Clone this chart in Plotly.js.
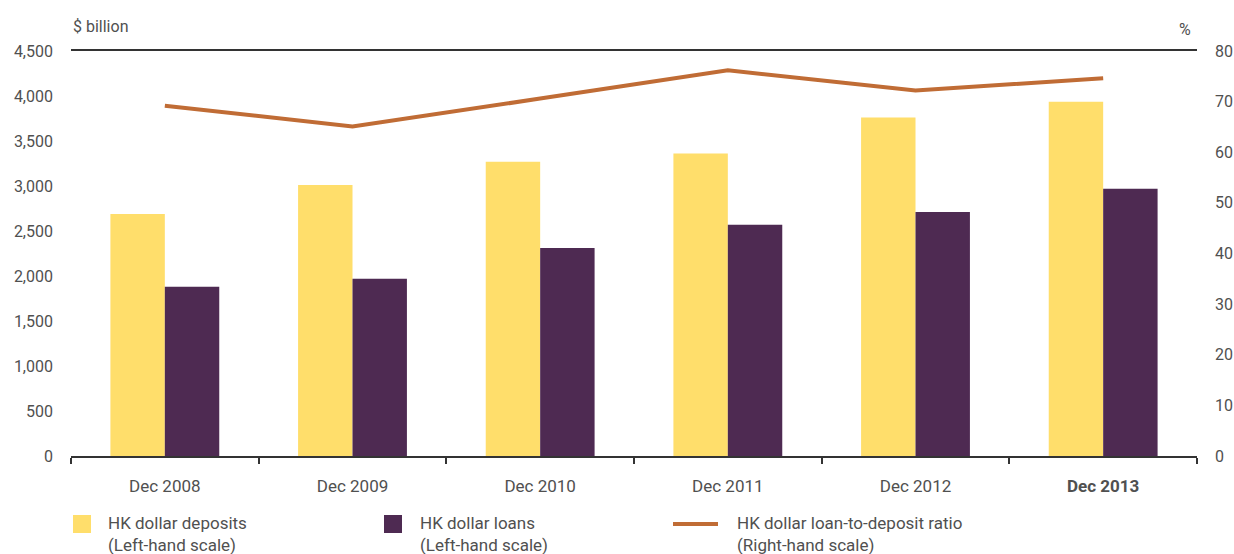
<!DOCTYPE html>
<html>
<head>
<meta charset="utf-8">
<script src="https://cdn.plot.ly/plotly-3.0.1.min.js"></script>
<style>
  body { margin: 0; background: #fff; }
  #chart { width: 1234px; height: 554px; }
</style>
</head>
<body>
<div id="chart"></div>
<script>
// values
var years = ['Dec 2008', 'Dec 2009', 'Dec 2010', 'Dec 2011', 'Dec 2012', 'Dec 2013'];
var yearLabels = ['Dec 2008', 'Dec 2009', 'Dec 2010', 'Dec 2011', 'Dec 2012', '<b>Dec 2013</b>'];
var deposits = [2690, 3010, 3270, 3360, 3760, 3935];
var loans = [1880, 1970, 2310, 2570, 2710, 2970];
var ratio = [69.2, 65.1, 70.6, 76.2, 72.2, 74.6];

var leftTicks = [0, 500, 1000, 1500, 2000, 2500, 3000, 3500, 4000, 4500];
var rightTicks = [0, 10, 20, 30, 40, 50, 60, 70, 80];

var yellow = '#ffde6b';
var purple = '#4e2a52';
var brown = '#c06c35';
var textCol = '#505050';
var fnt = 'Roboto, "DejaVu Sans", sans-serif';

var traces = [
    {
        x: years, y: deposits, type: 'bar', name: 'HK dollar deposits',
        marker: {color: yellow}, hoverinfo: 'y'
    },
    {
        x: years, y: loans, type: 'bar', name: 'HK dollar loans',
        marker: {color: purple}, hoverinfo: 'y'
    },
    {
        x: years, y: ratio, type: 'scatter', mode: 'lines', yaxis: 'y2',
        name: 'HK dollar loan-to-deposit ratio',
        line: {color: brown, width: 4}, hoverinfo: 'y'
    }
];

// hand-made legend, three entries along the bottom
var legendItems = [
    {x: 73, kind: 'box', color: yellow, text: 'HK dollar deposits<br>(Left-hand scale)', tx: 106},
    {x: 384, kind: 'box', color: purple, text: 'HK dollar loans<br>(Left-hand scale)', tx: 418},
    {x: 673, kind: 'line', color: brown, text: 'HK dollar loan-to-deposit ratio<br>(Right-hand scale)', tx: 735}
];
var W = 1234, H = 554;
var shapes = [];
var annotations = [];
legendItems.forEach(function (it) {
    if (it.kind == 'box') {
        shapes.push({
            type: 'rect', xref: 'paper', yref: 'paper',
            x0: (it.x - 71) / (W - 71 - 37), x1: (it.x + 18 - 71) / (W - 71 - 37),
            y0: -(515 - 456) / (456 - 51), y1: -(533 - 456) / (456 - 51),
            fillcolor: it.color, line: {width: 0}
        });
    } else {
        shapes.push({
            type: 'line', xref: 'paper', yref: 'paper',
            x0: (it.x - 71) / (W - 71 - 37), x1: (it.x + 45 - 71) / (W - 71 - 37),
            y0: -(524 - 456) / (456 - 51), y1: -(524 - 456) / (456 - 51),
            line: {color: it.color, width: 4}
        });
    }
    annotations.push({
        xref: 'paper', yref: 'paper', xanchor: 'left', yanchor: 'top',
        x: (it.tx - 71) / (W - 71 - 37), y: -(511 - 456) / (456 - 51),
        text: it.text, showarrow: false, align: 'left',
        font: {family: fnt, size: 17, color: textCol}
    });
});

annotations.push({
    xref: 'paper', yref: 'paper', x: 0, y: 1, xanchor: 'left', yanchor: 'bottom',
    yshift: 13, text: '$ billion', showarrow: false,
    font: {family: fnt, size: 16, color: textCol}
});
annotations.push({
    xref: 'paper', yref: 'paper', x: 1, y: 1, xanchor: 'right', yanchor: 'bottom',
    yshift: 10, xshift: -4, text: '%', showarrow: false,
    font: {family: fnt, size: 16, color: textCol}
});

var layout = {
    width: W, height: H,
    margin: {l: 71, r: 37, t: 51, b: 98},
    paper_bgcolor: '#fff', plot_bgcolor: '#fff',
    font: {family: fnt, size: 16, color: textCol},
    showlegend: false,
    barmode: 'group', bargap: 0.42, bargroupgap: 0,
    xaxis: {
        type: 'category', tickvals: years, ticktext: yearLabels,
        tickson: 'boundaries', ticks: 'outside', ticklen: 6, tickwidth: 2, tickcolor: '#333',
        showline: true, linecolor: '#333', linewidth: 2, mirror: true,
        showgrid: false, fixedrange: true, ticklabelstandoff: 14,
        tickfont: {size: 17, color: textCol}
    },
    yaxis: {
        range: [0, 4500], tickvals: leftTicks, tickformat: ',d',
        showgrid: false, zeroline: false, showline: false, ticks: '',
        ticklabelstandoff: 17, fixedrange: true
    },
    yaxis2: {
        overlaying: 'y', side: 'right', range: [0, 80], tickvals: rightTicks,
        showgrid: false, zeroline: false, showline: false, ticks: '',
        ticklabelstandoff: 17, fixedrange: true
    },
    shapes: shapes,
    annotations: annotations
};

Plotly.newPlot('chart', traces, layout, {displayModeBar: false, staticPlot: true});
</script>
</body>
</html>
